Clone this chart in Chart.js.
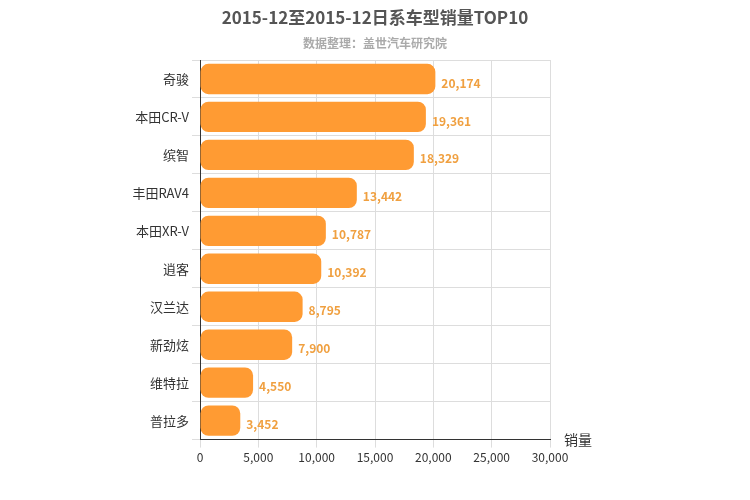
<!DOCTYPE html>
<html><head><meta charset="utf-8">
<script src="https://cdn.jsdelivr.net/npm/chart.js@4/dist/chart.umd.min.js"></script>
<style>body{margin:0;background:#fff}#w{width:750px;height:500px;position:relative}</style>
</head><body><div id="w"><canvas id="c"></canvas></div>
<script>
const categories=["奇骏","本田CR-V","缤智","丰田RAV4","本田XR-V","逍客","汉兰达","新劲炫","维特拉","普拉多"];
const sales=[20174,19361,18329,13442,10787,10392,8795,7900,4550,3452];
const xTicks=[0,5000,10000,15000,20000,25000,30000];
const F="'Microsoft YaHei','Noto Sans CJK SC',sans-serif";
const labels={id:'lbl',afterDatasetsDraw(ch){const c=ch.ctx;const m=ch.getDatasetMeta(0);c.save();c.font="bold 12px "+F;c.fillStyle="#F0A040";c.textBaseline="middle";
m.data.forEach((b,i)=>{c.fillText(sales[i].toLocaleString('en-US'),b.x+6,b.y+4);});
c.fillStyle="#333";c.font="14px "+F;c.fillText("销量",ch.chartArea.right+14,ch.chartArea.bottom);
c.textAlign="center";c.textBaseline="middle";c.fillStyle="#555";c.font="bold 17px "+F;c.fillText("2015-12至2015-12日系车型销量TOP10",375,18);
c.fillStyle="#aaa";c.font="bold 12px "+F;c.fillText("数据整理：盖世汽车研究院",375,43);c.restore();}};
new Chart(document.getElementById('c'),{type:'bar',data:{labels:categories,datasets:[{data:sales,backgroundColor:'#FF9B33',borderRadius:8,borderSkipped:false,categoryPercentage:0.8,barPercentage:1}]},
options:{indexAxis:'y',responsive:true,maintainAspectRatio:false,animation:false,
layout:{padding:{left:0,right:200,top:60,bottom:32}},
plugins:{legend:{display:false},tooltip:{enabled:false}},
scales:{x:{min:0,max:30000,afterBuildTicks(a){a.ticks=xTicks.map(v=>({value:v}));},ticks:{color:'#333',font:{size:12,family:F},callback:v=>v.toLocaleString('en-US')},grid:{color:'#ddd'},border:{color:'#333'}},
y:{afterFit(a){a.width=200;},ticks:{color:'#333',font:{size:13,family:F}},grid:{color:'#ddd',offset:true},border:{color:'#333'}}}},
plugins:[labels]});
</script></body></html>
